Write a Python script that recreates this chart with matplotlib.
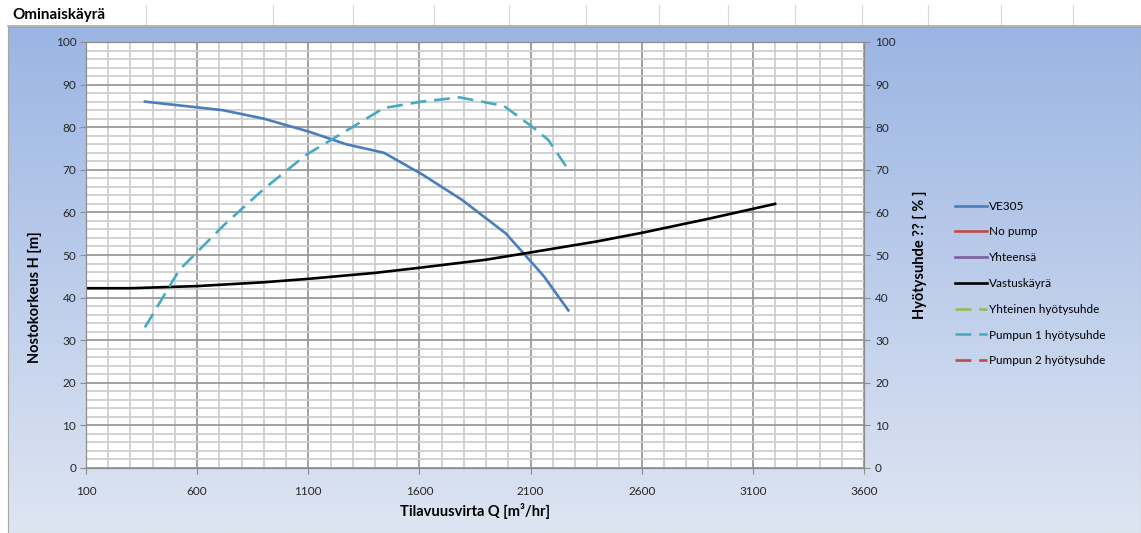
import numpy as np
import matplotlib
matplotlib.use("Agg")
import matplotlib.pyplot as plt
from matplotlib.lines import Line2D

plt.rcParams['font.family'] = ['Lato', 'DejaVu Sans']

# pump curve VE305
q_pump = [365, 715, 900, 1100, 1270, 1440, 1610, 1790, 1990, 2160, 2270]
h_pump = [86, 84, 82, 79, 76, 74, 69, 63, 55, 45, 37]

# system curve (Vastuskäyrä)
q_sys = [100, 300, 600, 900, 1100, 1400, 1600, 1900, 2100, 2400, 2600, 2900, 3200]
h_sys = [42.2, 42.2, 42.7, 43.6, 44.4, 45.8, 47.0, 48.9, 50.6, 53.2, 55.2, 58.5, 62.0]

# pump 1 efficiency
q_eff = [365, 520, 720, 900, 1090, 1250, 1440, 1610, 1780, 1980, 2110, 2180, 2270]
eff = [33, 46.5, 57, 65.5, 73.5, 78.5, 84.5, 86, 87, 85, 80, 77, 70]

W, H = 1141, 533
fig = plt.figure(figsize=(W / 100, H / 100), dpi=100)
fig.patch.set_facecolor("white")

# chart area background with gradient
bg = fig.add_axes([8 / W, 0, 1 - 8 / W, (H - 27) / H], zorder=0)
grad = np.linspace(0, 1, 256).reshape(-1, 1)
top = np.array([155, 181, 227]) / 255
bot = np.array([222, 229, 242]) / 255
img = top + (bot - top) * grad[:, :, None]
bg.imshow(img, aspect="auto", extent=[0, 1, 0, 1])
bg.set_xticks([])
bg.set_yticks([])
for s in bg.spines.values():
    s.set_color("#a6a6a6")

# spreadsheet strip on top
for xc in [146, 273, 353, 434, 509, 586, 659, 728, 795, 862, 928, 1001, 1073]:
    fig.add_artist(Line2D([xc / W, xc / W], [(H - 26) / H, (H - 5) / H], color="#d9d9d9", lw=0.8))
fig.add_artist(Line2D([8 / W, 1], [(H - 26) / H, (H - 26) / H], color="#a6a6a6", lw=1.2))
fig.text(12 / W, (H - 15) / H, "Ominaiskäyrä", fontsize=11, fontweight="bold", va="center", ha="left")

ax = fig.add_axes([86 / W, (H - 468) / H, (864 - 86) / W, (468 - 42) / H], zorder=2)
ax.set_facecolor("white")
ax.set_xlim(100, 3600)
ax.set_ylim(0, 100)
ax.set_xticks(np.arange(100, 3601, 500))
ax.set_xticks(np.arange(100, 3601, 100), minor=True)
ax.set_yticks(np.arange(0, 101, 10))
ax.set_yticks(np.arange(0, 101, 2), minor=True)
ax.grid(which="minor", color="#cfcfcf", lw=1.3)
ax.grid(which="major", color="#9a9a9a", lw=1.3)
ax.set_axisbelow(True)
ax.tick_params(which="minor", length=0)
ax.tick_params(which="major", length=4, color="#8c8c8c", labelsize=8.5, labelcolor="#262626", pad=3)
ax.tick_params(axis="x", pad=9)
for s in ax.spines.values():
    s.set_color("#8c8c8c")

ax2 = ax.twinx()
ax2.set_ylim(0, 100)
ax2.set_yticks(np.arange(0, 101, 10))
ax2.tick_params(length=4, color="#8c8c8c", labelsize=8.5, labelcolor="#262626", pad=4)
for s in ax2.spines.values():
    s.set_color("#8c8c8c")

lw = 1.9
dash = (0, (6, 3))
l1, = ax.plot(q_pump, h_pump, color="#4a7ebb", lw=lw, label="VE305")
l2, = ax.plot([], [], color="#be4b48", lw=lw, label="No pump")
l3, = ax.plot([], [], color="#7d60a0", lw=lw, label="Yhteensä")
l4, = ax.plot(q_sys, h_sys, color="black", lw=lw, label="Vastuskäyrä")
l5, = ax2.plot([], [], color="#98b954", lw=lw, ls=dash, label="Yhteinen hyötysuhde")
l6, = ax2.plot(q_eff, eff, color="#46aac5", lw=lw, ls=dash, label="Pumpun 1 hyötysuhde")
l7, = ax2.plot([], [], color="#be4b48", lw=lw, ls=dash, label="Pumpun 2 hyötysuhde")

ax.set_xlabel("Tilavuusvirta Q [m³/hr]", fontsize=10.5, fontweight="bold", labelpad=4)
ax.set_ylabel("Nostokorkeus H [m]", fontsize=10.5, fontweight="bold")
ax.yaxis.set_label_coords(-0.057, 0.40)
ax2.set_ylabel("Hyötysuhde ?? [ % ]", fontsize=10.5, fontweight="bold", labelpad=12)

leg = fig.legend(handles=[l1, l2, l3, l4, l5, l6, l7], loc="upper left",
                 bbox_to_anchor=(950 / W, (H - 196) / H), frameon=False,
                 fontsize=8.5, handlelength=2.7, handletextpad=0.2,
                 labelspacing=1.25, borderaxespad=0)

fig.savefig("out.png", dpi=100)
